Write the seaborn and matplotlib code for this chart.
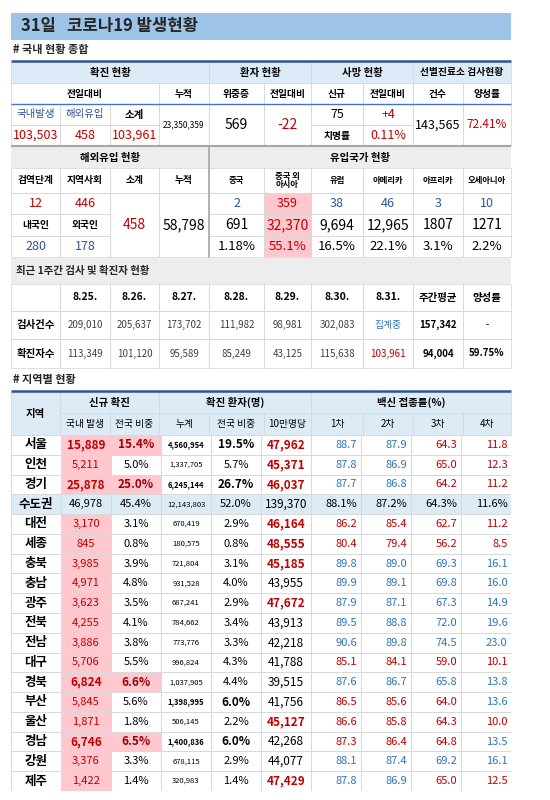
import numpy as np
import matplotlib
matplotlib.use("Agg")
import matplotlib.pyplot as plt
from matplotlib.patches import Rectangle
from matplotlib.colors import ListedColormap
import seaborn as sns

sns.set_theme(style="white")
plt.rcParams['font.family'] = ['Noto Sans CJK KR', 'DejaVu Sans']

RED = '#C00000'
BLUE = '#2F5597'
VBLUE = '#2E75B6'
PINK = '#FFC7CE'
LBLUE = '#DDEBF7'
GRAY = '#EDEDED'
LINE = '#D9D9D9'

# --- data: domestic summary ---
conf_local, conf_abroad, conf_total = "103,503", "458", "103,961"
conf_cumul = "23,350,359"
critical, critical_diff = "569", "-22"
deaths, deaths_diff, fatality = "75", "+4", "0.11%"
tests, positivity = "143,565", "72.41%"

# --- data: imported cases ---
quarantine, community = "12", "446"
korean, foreign = "280", "178"
imp_total, imp_cumul = "458", "58,798"
origins = ['중국', '중국 외\n아시아', '유럽', '아메리카', '아프리카', '오세아니아']
origin_today = ['2', '359', '38', '46', '3', '10']
origin_cumul = ['691', '32,370', '9,694', '12,965', '1807', '1271']
origin_share = ['1.18%', '55.1%', '16.5%', '22.1%', '3.1%', '2.2%']

# --- data: last week ---
dates = ['8.25.', '8.26.', '8.27.', '8.28.', '8.29.', '8.30.', '8.31.']
week_tests = ['209,010', '205,637', '173,702', '111,982', '98,981', '302,083', '집계중']
week_cases = ['113,349', '101,120', '95,589', '85,249', '43,125', '115,638', '103,961']
week_avg_tests, week_avg_cases = '157,342', '94,004'
week_pos = '59.75%'

# --- data: regions ---
regions = ['서울', '인천', '경기', '수도권', '대전', '세종', '충북', '충남', '광주', '전북',
           '전남', '대구', '경북', '부산', '울산', '경남', '강원', '제주']
local = [15889, 5211, 25878, 46978, 3170, 845, 3985, 4971, 3623, 4255, 3886, 5706, 6824,
         5845, 1871, 6746, 3376, 1422]
share = [15.4, 5.0, 25.0, 45.4, 3.1, 0.8, 3.9, 4.8, 3.5, 4.1, 3.8, 5.5, 6.6, 5.6, 1.8, 6.5, 3.3, 1.4]
cumul = [4560954, 1337705, 6245144, 12143803, 670419, 180575, 721804, 931528, 687241, 784662,
         773776, 996824, 1037905, 1398995, 506145, 1400836, 678115, 320983]
cum_share = [19.5, 5.7, 26.7, 52.0, 2.9, 0.8, 3.1, 4.0, 2.9, 3.4, 3.3, 4.3, 4.4, 6.0, 2.2, 6.0, 2.9, 1.4]
per100k = [47962, 45371, 46037, 139370, 46164, 48555, 45185, 43955, 47672, 43913, 42218, 41788,
           39515, 41756, 45127, 42268, 44077, 47429]
v1 = [88.7, 87.8, 87.7, 88.1, 86.2, 80.4, 89.8, 89.9, 87.9, 89.5, 90.6, 85.1, 87.6, 86.5, 86.6, 87.3, 88.1, 87.8]
v2 = [87.9, 86.9, 86.8, 87.2, 85.4, 79.4, 89.0, 89.1, 87.1, 88.8, 89.8, 84.1, 86.7, 85.6, 85.8, 86.4, 87.4, 86.9]
v3 = [64.3, 65.0, 64.2, 64.3, 62.7, 56.2, 69.3, 69.8, 67.3, 72.0, 74.5, 59.0, 65.8, 64.0, 64.3, 64.8, 69.2, 65.0]
v4 = [11.8, 12.3, 11.2, 11.6, 11.2, 8.5, 16.1, 16.0, 14.9, 19.6, 23.0, 10.1, 13.8, 13.6, 10.0, 13.5, 16.1, 12.5]
v_avg = [87.5, 86.5, 65.5, 13.0]

W, H = 550, 800
fig = plt.figure(figsize=(5.5, 8), dpi=100)
ax = fig.add_axes([0, 0, 1, 1])
ax.set_xlim(0, W)
ax.set_ylim(H, 0)
ax.axis('off')

X = [11, 60, 110, 159, 209, 264, 311, 363, 413, 463, 511]


def cell(c0, c1, y0, y1, text='', color='black', bold=False, size=7.5, bg=None, grid=True):
    x0, x1 = X[c0], X[c1]
    if bg is not None:
        ax.add_patch(Rectangle((x0, y0), x1 - x0, y1 - y0, facecolor=bg, edgecolor='none', zorder=1))
    if grid:
        ax.add_patch(Rectangle((x0, y0), x1 - x0, y1 - y0, facecolor='none', edgecolor=LINE, lw=0.6, zorder=2))
    if text:
        ax.text((x0 + x1) / 2, (y0 + y1) / 2, text, ha='center', va='center', color=color,
                fontsize=size, fontweight='bold' if bold else 'normal', zorder=3, linespacing=1.0)


def hline(y, color, lw):
    ax.plot([X[0], X[-1]], [y, y], color=color, lw=lw, zorder=4, solid_capstyle='butt')


# title
ax.add_patch(Rectangle((11, 13), 500, 27, facecolor='#9DC3E6', edgecolor='none'))
ax.text(21, 26.5, '31일   코로나19 발생현황', fontsize=12, fontweight='bold', va='center')
ax.text(13, 49, '# 국내 현황 종합', fontsize=8, fontweight='bold', va='center')

# section 1
y = [62, 83, 104, 125, 146]
cell(0, 4, y[0], y[1], '확진 현황', bold=True, bg=LBLUE)
cell(4, 6, y[0], y[1], '환자 현황', bold=True, bg=LBLUE)
cell(6, 8, y[0], y[1], '사망 현황', bold=True, bg=LBLUE)
cell(8, 10, y[0], y[1], '선별진료소 검사현황', bold=True, bg=LBLUE, size=7)
cell(0, 3, y[1], y[2], '전일대비', bold=True, size=7)
for i, t in enumerate(['누적', '위중증', '전일대비', '신규', '전일대비', '건수', '양성률']):
    cell(3 + i, 4 + i, y[1], y[2], t, bold=True, size=7)
cell(0, 1, y[2], y[3], '국내발생', color=BLUE, size=7.5)
cell(1, 2, y[2], y[3], '해외유입', color=BLUE, size=7.5)
cell(2, 3, y[2], y[3], '소계', bold=True, size=7.5)
cell(0, 1, y[3], y[4], conf_local, color=RED, size=9)
cell(1, 2, y[3], y[4], conf_abroad, color=RED, size=9)
cell(2, 3, y[3], y[4], conf_total, color=RED, size=9)
cell(3, 4, y[2], y[4], conf_cumul, size=6)
cell(4, 5, y[2], y[4], critical, size=10)
cell(5, 6, y[2], y[4], critical_diff, color=RED, size=10)
cell(6, 7, y[2], y[3], deaths, size=9)
cell(7, 8, y[2], y[3], deaths_diff, color=RED, size=9)
cell(6, 7, y[3], y[4], '치명률', bold=True, size=7)
cell(7, 8, y[3], y[4], fatality, color=RED, size=9)
cell(8, 9, y[2], y[4], tests, size=9)
cell(9, 10, y[2], y[4], positivity, color=RED, size=8.5)
hline(61, '#2F5597', 1.8)
hline(104, '#4472C4', 1.0)
hline(146, '#A6A6A6', 1.5)

# section 2
y = [147, 168, 193, 214, 236, 257]
cell(0, 4, y[0], y[1], '해외유입 현황', bold=True, bg=GRAY, grid=False)
cell(4, 10, y[0], y[1], '유입국가 현황', bold=True, bg=GRAY, grid=False)
for i, t in enumerate(['검역단계', '지역사회', '소계', '누적']):
    cell(i, i + 1, y[1], y[2], t, bold=True, size=7)
for i, t in enumerate(origins):
    cell(4 + i, 5 + i, y[1], y[2], t, bold=True, size=6)
cell(0, 1, y[2], y[3], quarantine, color=RED, size=9)
cell(1, 2, y[2], y[3], community, color=RED, size=9)
cell(0, 1, y[3], y[4], '내국인', bold=True, size=7)
cell(1, 2, y[3], y[4], '외국인', bold=True, size=7)
cell(0, 1, y[4], y[5], korean, color=BLUE, size=9)
cell(1, 2, y[4], y[5], foreign, color=BLUE, size=9)
cell(2, 3, y[2], y[5], imp_total, color=RED, size=10)
cell(3, 4, y[2], y[5], imp_cumul, size=10)
for i in range(len(origins)):
    bg = PINK if i == 1 else None
    cell(4 + i, 5 + i, y[2], y[3], origin_today[i], color=RED if i == 1 else BLUE, size=9, bg=bg)
    cell(4 + i, 5 + i, y[3], y[4], origin_cumul[i], color=RED if i == 1 else 'black', size=10, bg=bg)
    cell(4 + i, 5 + i, y[4], y[5], origin_share[i], color=RED if i == 1 else 'black', size=9.5, bg=bg)
ax.plot([209, 209], [147, 257], color='#A6A6A6', lw=1.2, zorder=4)

# section 3
y = [258, 284, 311, 339, 368]
ax.add_patch(Rectangle((11, y[0]), 500, y[1] - y[0], facecolor=GRAY, edgecolor='none'))
ax.text(16, (y[0] + y[1]) / 2, '최근 1주간 검사 및 확진자 현황', fontsize=7.5, fontweight='bold', va='center')
cell(0, 1, y[1], y[2])
for i, d in enumerate(dates):
    cell(1 + i, 2 + i, y[1], y[2], d, bold=True, size=7.5)
    cell(1 + i, 2 + i, y[2], y[3], week_tests[i], color=VBLUE if week_tests[i] == '집계중' else '#404040', size=7)
    cell(1 + i, 2 + i, y[3], y[4], week_cases[i], color=RED if i == 6 else '#404040', size=7)
cell(8, 9, y[1], y[2], '주간평균', bold=True, size=7.5)
cell(9, 10, y[1], y[2], '양성률', bold=True, size=7.5)
cell(0, 1, y[2], y[3], '검사건수', bold=True, size=7.5)
cell(0, 1, y[3], y[4], '확진자수', bold=True, size=7.5)
cell(8, 9, y[2], y[3], week_avg_tests, bold=True, size=7)
cell(9, 10, y[2], y[3], '-', size=7)
cell(8, 9, y[3], y[4], week_avg_cases, bold=True, size=7)
cell(9, 10, y[3], y[4], week_pos, bold=True, size=7)

# section 4: regional
ax.text(13, 380, '# 지역별 현황', fontsize=8, fontweight='bold', va='center')
hline(391, '#2F5597', 1.8)
yh = [392, 413, 435]
cell(0, 1, yh[0], yh[2], '지역', bold=True, bg=LBLUE)
cell(1, 3, yh[0], yh[1], '신규 확진', bold=True, bg=LBLUE)
cell(3, 6, yh[0], yh[1], '확진 환자(명)', bold=True, bg=LBLUE)
cell(6, 10, yh[0], yh[1], '백신 접종률(%)', bold=True, bg=LBLUE)
for i, t in enumerate(['국내 발생', '전국 비중', '누계', '전국 비중', '10만명당', '1차', '2차', '3차', '4차']):
    cell(1 + i, 2 + i, yh[1], yh[2], t, size=7, bg=LBLUE)

n = len(regions)
y_top, y_bot = 435, 791
metro = regions.index('수도권')
codes = np.zeros((n, 10), dtype=int)
for r in range(n):
    if r == metro:
        codes[r, :] = 2
    else:
        codes[r, 1] = 1
        if share[r] >= 6:
            codes[r, 2] = 1

hax = fig.add_axes([X[0] / W, 1 - y_bot / H, (X[-1] - X[0]) / W, (y_bot - y_top) / H])
sns.heatmap(codes, ax=hax, cmap=ListedColormap(['white', PINK, LBLUE]), vmin=0, vmax=2,
            cbar=False, linewidths=0.4, linecolor=LINE, xticklabels=False, yticklabels=False)

for r in range(n):
    m = r == metro
    big = share[r] >= 6 and not m
    cells = [
        (regions[r], 'black', True, 9),
        (f'{local[r]:,}', 'black' if m else RED, big, 8.5 if big else 8),
        (f'{share[r]:.1f}%', 'black' if m else ('#9C0006' if big else 'black'), big, 8.5 if big else 8),
        (f'{cumul[r]:,}', 'black', cum_share[r] >= 6 and not m, 5.5),
        (f'{cum_share[r]:.1f}%', 'black', cum_share[r] >= 6 and not m, 8.5 if (cum_share[r] >= 6 and not m) else 8),
        (f'{per100k[r]:,}', 'black' if m or per100k[r] < 45000 else RED, per100k[r] >= 45000 and not m, 8.5),
    ]
    for k, vals in enumerate([v1, v2, v3, v4]):
        if m:
            cells.append((f'{vals[r]:.1f}%', 'black', False, 8))
        else:
            cells.append((f'{vals[r]:.1f}', VBLUE if vals[r] >= v_avg[k] else RED, False, 8))
    for c, (t, col, b, s) in enumerate(cells):
        xpos = c + 0.93 if c >= 6 else c + 0.5
        hax.text(xpos, r + 0.5, t, ha='right' if c >= 6 else 'center', va='center', color=col,
                 fontsize=s, fontweight='bold' if b else 'normal')

fig.savefig('out.png', dpi=100)
